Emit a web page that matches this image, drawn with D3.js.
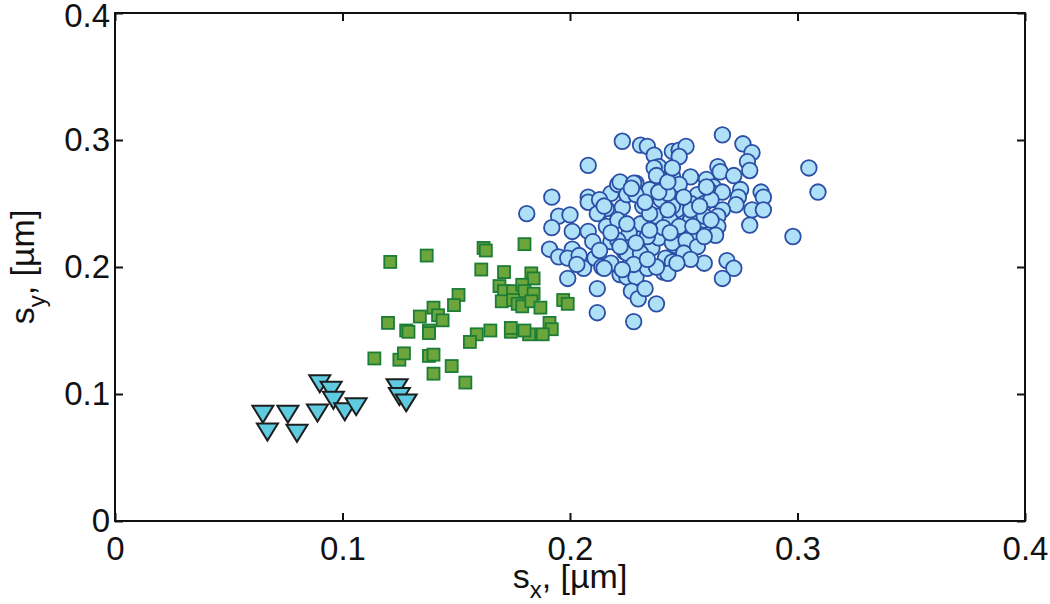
<!DOCTYPE html>
<html>
<head>
<meta charset="utf-8">
<script src="https://cdn.jsdelivr.net/npm/d3@7"></script>
<style>
  html, body { margin: 0; padding: 0; background: #fff; }
  svg { display: block; }
  text { font-family: "Liberation Sans", Arial, Helvetica, sans-serif; fill: #111; }
</style>
</head>
<body>
<svg id="chart" width="1050" height="604"></svg>
<script>
// ---- data ----
const xTicks = [0, 0.1, 0.2, 0.3, 0.4];
const xTickLabels = ["0", "0.1", "0.2", "0.3", "0.4"];
const yTicks = [0, 0.1, 0.2, 0.3, 0.4];
const yTickLabels = ["0", "0.1", "0.2", "0.3", "0.4"];

// series 1: triangles [sx, sy]
const triangles = [
  [0.065,0.084],[0.067,0.070],[0.076,0.084],[0.080,0.069],[0.089,0.085],
  [0.090,0.108],[0.095,0.103],[0.096,0.095],[0.101,0.086],[0.106,0.090],
  [0.124,0.105],[0.125,0.098],[0.128,0.093]
];

// series 2: squares [sx, sy]
const squares = [
  [0.121,0.204],[0.137,0.209],[0.162,0.215],[0.163,0.213],[0.180,0.218],
  [0.161,0.198],[0.171,0.196],[0.183,0.195],[0.184,0.191],[0.169,0.185],
  [0.171,0.181],[0.175,0.181],[0.179,0.186],[0.180,0.181],[0.184,0.179],
  [0.170,0.173],[0.175,0.174],[0.177,0.171],[0.179,0.169],[0.183,0.173],
  [0.187,0.168],[0.197,0.174],[0.199,0.171],[0.191,0.156],[0.192,0.151],
  [0.188,0.147],[0.182,0.147],[0.180,0.150],[0.174,0.149],[0.174,0.152],
  [0.165,0.150],[0.159,0.147],[0.156,0.141],[0.151,0.178],[0.149,0.170],
  [0.140,0.168],[0.142,0.162],[0.144,0.158],[0.134,0.161],[0.120,0.156],
  [0.128,0.150],[0.129,0.149],[0.138,0.150],[0.138,0.148],[0.114,0.128],
  [0.125,0.127],[0.127,0.132],[0.138,0.130],[0.140,0.131],[0.140,0.116],
  [0.148,0.122],[0.154,0.109]
];

// series 3: circles [sx, sy]
const circles = [
  [0.223,0.299],[0.231,0.296],[0.234,0.295],[0.237,0.288],[0.239,0.279],
  [0.237,0.278],[0.245,0.291],[0.208,0.280],[0.192,0.255],[0.181,0.242],
  [0.195,0.240],[0.200,0.241],[0.192,0.231],[0.208,0.255],[0.208,0.251],
  [0.218,0.258],[0.221,0.265],[0.222,0.267],[0.229,0.266],[0.223,0.247],
  [0.213,0.243],[0.216,0.246],[0.267,0.304],[0.276,0.297],[0.280,0.290],
  [0.278,0.283],[0.279,0.276],[0.248,0.292],[0.251,0.295],[0.248,0.287],
  [0.305,0.278],[0.309,0.259],[0.265,0.279],[0.266,0.275],[0.253,0.271],
  [0.260,0.269],[0.272,0.272],[0.284,0.259],[0.285,0.255],[0.280,0.245],
  [0.285,0.245],[0.279,0.233],[0.298,0.224],[0.275,0.261],[0.274,0.255],
  [0.273,0.249],[0.267,0.245],[0.265,0.240],[0.265,0.232],[0.263,0.263],
  [0.262,0.259],[0.267,0.259],[0.256,0.257],[0.259,0.250],[0.253,0.250],
  [0.247,0.263],[0.245,0.255],[0.247,0.245],[0.253,0.237],[0.259,0.237],
  [0.250,0.229],[0.191,0.214],[0.195,0.208],[0.199,0.191],[0.201,0.214],
  [0.199,0.207],[0.204,0.209],[0.206,0.199],[0.203,0.202],[0.211,0.207],
  [0.214,0.200],[0.212,0.183],[0.212,0.164],[0.222,0.194],[0.225,0.192],
  [0.229,0.192],[0.227,0.181],[0.230,0.175],[0.233,0.183],[0.238,0.171],
  [0.228,0.157],[0.201,0.228],[0.208,0.228],[0.210,0.220],[0.218,0.220],
  [0.224,0.212],[0.229,0.204],[0.234,0.199],[0.241,0.196],[0.242,0.207],
  [0.236,0.215],[0.230,0.223],[0.239,0.223],[0.264,0.225],[0.259,0.203],
  [0.269,0.205],[0.272,0.199],[0.267,0.191],[0.252,0.209],[0.248,0.207],
  [0.245,0.204],[0.243,0.195],[0.255,0.223],[0.246,0.217],[0.238,0.272],
  [0.245,0.272],[0.248,0.265],[0.262,0.253],[0.212,0.242],[0.216,0.232],
  [0.221,0.237],[0.232,0.248],[0.240,0.253],[0.245,0.248],[0.253,0.245],
  [0.259,0.240],[0.238,0.240],[0.244,0.237],[0.231,0.234],[0.226,0.227],
  [0.234,0.224],[0.245,0.219],[0.251,0.221],[0.256,0.216],[0.221,0.221],
  [0.213,0.213],[0.225,0.211],[0.231,0.211],[0.250,0.211],[0.218,0.203],
  [0.228,0.202],[0.238,0.200],[0.215,0.199],[0.223,0.198],[0.225,0.257],
  [0.235,0.261],[0.243,0.258],[0.250,0.255],[0.235,0.242],[0.243,0.245],
  [0.248,0.232],[0.254,0.232],[0.241,0.231],[0.225,0.234],[0.218,0.227],
  [0.229,0.219],[0.235,0.229],[0.244,0.227],[0.259,0.224],[0.253,0.206],
  [0.247,0.203],[0.234,0.206],[0.222,0.216],[0.262,0.237],[0.257,0.248],
  [0.260,0.263],[0.228,0.266],[0.213,0.253],[0.215,0.248],[0.229,0.257],
  [0.233,0.251],[0.239,0.259],[0.243,0.267],[0.245,0.278],[0.227,0.262]
];

// ---- layout ----
const svg = d3.select("#chart");
const plotLeft = 115, plotRight = 1025, plotTop = 13, plotBottom = 521;

const x = d3.scaleLinear().domain([0, 0.4]).range([plotLeft, plotRight]);
const y = d3.scaleLinear().domain([0, 0.4]).range([plotBottom, plotTop]);

const fmtX = d => xTickLabels[xTicks.indexOf(d)];
const fmtY = d => yTickLabels[yTicks.indexOf(d)];

// axes (ticks inward)
const gB = svg.append("g").attr("transform", `translate(0,${plotBottom})`)
  .call(d3.axisBottom(x).tickValues(xTicks).tickFormat(fmtX).tickSize(-8).tickPadding(16));
const gT = svg.append("g").attr("transform", `translate(0,${plotTop})`)
  .call(d3.axisTop(x).tickValues(xTicks).tickFormat("").tickSize(-8));
const gL = svg.append("g").attr("transform", `translate(${plotLeft},0)`)
  .call(d3.axisLeft(y).tickValues(yTicks).tickFormat(fmtY).tickSize(-8).tickPadding(5));
const gR = svg.append("g").attr("transform", `translate(${plotRight},0)`)
  .call(d3.axisRight(y).tickValues(yTicks).tickFormat("").tickSize(-8));

[gB, gT, gL, gR].forEach(g => {
  g.select(".domain").remove();
  g.selectAll(".tick line").attr("stroke", "#111").attr("stroke-width", 2);
  g.selectAll(".tick text").attr("font-size", 33).attr("fill", "#111")
    .attr("font-family", "'Liberation Sans', Arial, Helvetica, sans-serif");
});
// keep the top y label inside the page
gL.selectAll(".tick text").filter(d => d === 0.4).attr("y", 3);

// frame
svg.append("rect")
  .attr("x", plotLeft).attr("y", plotTop)
  .attr("width", plotRight - plotLeft).attr("height", plotBottom - plotTop)
  .attr("fill", "none").attr("stroke", "#111").attr("stroke-width", 2);

// markers
const tri = "M-10.5,-8.5L10.5,-8.5L0,8.5Z";
svg.append("g").selectAll("path").data(triangles).join("path")
  .attr("d", tri)
  .attr("transform", d => `translate(${x(d[0])},${y(d[1])})`)
  .attr("fill", "#5ecbe0").attr("stroke", "#1e1e1e").attr("stroke-width", 2)
  .attr("stroke-linejoin", "miter");

const sq = 12;
svg.append("g").selectAll("rect").data(squares).join("rect")
  .attr("x", d => x(d[0]) - sq / 2).attr("y", d => y(d[1]) - sq / 2)
  .attr("width", sq).attr("height", sq)
  .attr("fill", "#6ca53c").attr("stroke", "#1b7d36").attr("stroke-width", 1.8);

svg.append("g").selectAll("circle").data(circles).join("circle")
  .attr("cx", d => x(d[0])).attr("cy", d => y(d[1])).attr("r", 7.8)
  .attr("fill", "#aee0f7").attr("stroke", "#2b4ea6").attr("stroke-width", 1.8);

// axis labels
const xl = svg.append("text").attr("x", 570).attr("y", 588)
  .attr("text-anchor", "middle").attr("font-size", 34);
xl.append("tspan").text("s");
xl.append("tspan").attr("font-size", 24).attr("dy", 10).text("x");
xl.append("tspan").attr("dy", -10).text(", [µm]");

const yl = svg.append("text")
  .attr("transform", `translate(34,${(plotTop + plotBottom) / 2}) rotate(-90)`)
  .attr("text-anchor", "middle").attr("font-size", 34);
yl.append("tspan").text("s");
yl.append("tspan").attr("font-size", 24).attr("dy", 11).text("y");
yl.append("tspan").attr("dy", -11).text(", [µm]");
</script>
</body>
</html>
